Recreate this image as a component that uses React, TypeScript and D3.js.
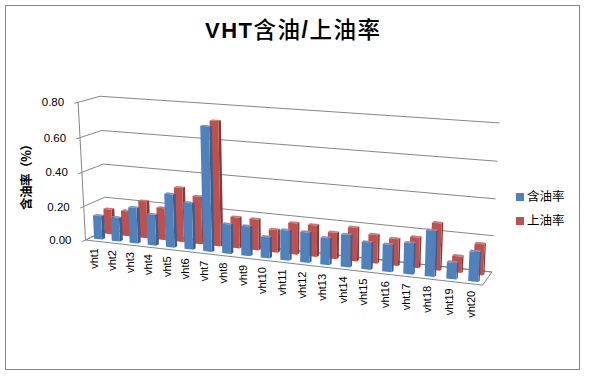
import React, { useMemo } from 'react';
import * as d3 from 'd3';

// ---------- data ----------
const categories = [
  'vht1', 'vht2', 'vht3', 'vht4', 'vht5', 'vht6', 'vht7', 'vht8', 'vht9', 'vht10',
  'vht11', 'vht12', 'vht13', 'vht14', 'vht15', 'vht16', 'vht17', 'vht18', 'vht19', 'vht20',
];
const oilContent = [0.14, 0.14, 0.21, 0.18, 0.31, 0.27, 0.71, 0.17, 0.17, 0.12, 0.17, 0.17, 0.15, 0.18, 0.15, 0.15, 0.17, 0.25, 0.09, 0.16];
const oilPickup = [0.15, 0.15, 0.22, 0.19, 0.32, 0.28, 0.72, 0.18, 0.18, 0.13, 0.18, 0.18, 0.15, 0.19, 0.16, 0.15, 0.17, 0.26, 0.09, 0.17];
const seriesNames = ['含油率', '上油率'];
const yTicks = [0, 0.2, 0.4, 0.6, 0.8];
const yTickLabels = ['0.00', '0.20', '0.40', '0.60', '0.80'];
const yTitle = '含油率（%）';

// ---------- view (3D box frame anchors: X 0..1, value-fraction 0..1, depth 0..1 -> screen) ----------
const VIEW_ANCHORS: number[][] = [
  [0, 0, 0, 85, 240], [0, 1, 0, 78, 104], [0, 0, 1, 107, 231], [0, 1, 1, 100, 96],
  [1, 0, 1, 492, 272], [1, 1, 1, 500, 123], [1, 0, 0, 483, 285],
  [0, 0.5, 0, 82, 172], [0, 0.5, 1, 103, 163], [1, 0.5, 1, 496, 199],
  [0, 0.75, 0, 80, 137], [0, 0.25, 0, 84, 206], [1, 0.75, 1, 497, 161], [1, 0.25, 1, 493, 236],
];

const COLORS = [
  { front: '#4F81BD', side: '#36608F', top: '#6F9AD0' },
  { front: '#C0504D', side: '#8C3836', top: '#D47572' },
];
const GRID = '#868686';
const FONT = "'Liberation Sans', Arial, 'Noto Sans CJK SC', sans-serif";
const CJK = "'Noto Sans CJK SC', sans-serif";

function fitCamera(anchors: number[][]) {
  const rows: number[][] = [];
  const rhs: number[] = [];
  for (const [X, Y, Z, u, v] of anchors) {
    rows.push([X, Y, Z, 1, 0, 0, 0, 0, -u * X, -u * Y, -u * Z]);
    rhs.push(u);
    rows.push([0, 0, 0, 0, X, Y, Z, 1, -v * X, -v * Y, -v * Z]);
    rhs.push(v);
  }
  const n = 11;
  const A = Array.from({ length: n }, () => new Array(n + 1).fill(0));
  for (let r = 0; r < rows.length; r++) {
    for (let i = 0; i < n; i++) {
      for (let j = 0; j < n; j++) A[i][j] += rows[r][i] * rows[r][j];
      A[i][n] += rows[r][i] * rhs[r];
    }
  }
  for (let c = 0; c < n; c++) {
    let p = c;
    for (let r = c + 1; r < n; r++) if (Math.abs(A[r][c]) > Math.abs(A[p][c])) p = r;
    const tmp = A[c]; A[c] = A[p]; A[p] = tmp;
    for (let r = 0; r < n; r++) {
      if (r === c) continue;
      const f = A[r][c] / A[c][c];
      for (let k = c; k <= n; k++) A[r][k] -= f * A[c][k];
    }
  }
  const P = A.map((row, i) => row[n] / row[i]);
  return (X: number, Y: number, Z: number): [number, number] => {
    const w = P[8] * X + P[9] * Y + P[10] * Z + 1;
    return [(P[0] * X + P[1] * Y + P[2] * Z + P[3]) / w, (P[4] * X + P[5] * Y + P[6] * Z + P[7]) / w];
  };
}

export default function App() {
  const proj = useMemo(() => fitCamera(VIEW_ANCHORS), []);
  const pad = 0.54;
  const x = d3.scaleBand<string>().domain(categories).range([0, 1]).paddingInner(pad).paddingOuter(pad / 2);
  const y = d3.scaleLinear().domain([0, 0.8]).range([0, 1]);
  const z = d3.scalePoint<string>().domain(seriesNames).range([0, 1]).padding(0.5);
  const barDepth = 0.14;
  const series = [oilContent, oilPickup];

  const pts = (arr: [number, number][]) => arr.map((p) => p.join(',')).join(' ');
  const line = d3.line();

  const bars: JSX.Element[] = [];
  [1, 0].forEach((s) => {
    const zc = z(seriesNames[s])!;
    const z0 = zc - barDepth / 2;
    const z1 = zc + barDepth / 2;
    series[s].forEach((val, i) => {
      const x0 = x(categories[i])!;
      const x1 = x0 + x.bandwidth();
      const t = y(val);
      const front = [proj(x0, 0, z0), proj(x1, 0, z0), proj(x1, t, z0), proj(x0, t, z0)];
      const side = [proj(x1, 0, z0), proj(x1, 0, z1), proj(x1, t, z1), proj(x1, t, z0)];
      const top = [proj(x0, t, z0), proj(x1, t, z0), proj(x1, t, z1), proj(x0, t, z1)];
      const c = COLORS[s];
      bars.push(
        <g key={`b${s}-${i}`}>
          <polygon points={pts(side)} fill={c.side} />
          <polygon points={pts(top)} fill={c.top} />
          <polygon points={pts(front)} fill={c.front} />
        </g>
      );
    });
  });

  const floor = [proj(0, 0, 0), proj(1, 0, 0), proj(1, 0, 1), proj(0, 0, 1)];

  return (
    <svg width={590} height={376} style={{ position: 'absolute', left: 0, top: 0, background: '#fff' }} fontFamily={FONT}>
      <rect x={0} y={0} width={590} height={376} fill="#fff" />
      <rect x={5.5} y={5.5} width={574} height={364} fill="none" stroke="#868686" strokeWidth={1} />
      {/* title */}
      <text x={205} y={38} textLength={175} lengthAdjust="spacing" fill="#000">
        <tspan fontWeight="bold" fontSize={22}>VHT</tspan>
        <tspan fontFamily={CJK} fontWeight="500" fontSize={22.5}>含油</tspan>
        <tspan fontWeight="bold" fontSize={23}>/</tspan>
        <tspan fontFamily={CJK} fontWeight="500" fontSize={22.5}>上油率</tspan>
      </text>
      {/* floor */}
      <polygon points={pts(floor as [number, number][])} fill="none" stroke={GRID} strokeWidth={1} />
      {/* gridlines on side wall and back wall */}
      {yTicks.map((v, k) => {
        const t = y(v);
        return (
          <path
            key={`g${k}`}
            d={line([proj(0, t, 0), proj(0, t, 1), proj(1, t, 1)]) || ''}
            fill="none"
            stroke={GRID}
            strokeWidth={1}
          />
        );
      })}
      {/* value axis */}
      <path d={line([proj(0, 0, 0), proj(0, 1, 0)]) || ''} stroke={GRID} strokeWidth={1} fill="none" />
      {yTicks.map((v, k) => {
        const t = y(v);
        const a = proj(0, t, 0);
        const b = proj(0, t, -0.16);
        return (
          <g key={`t${k}`}>
            <path d={line([a, b]) || ''} stroke={GRID} strokeWidth={1} />
            <text x={a[0] - 14} y={a[1]} dy="0.35em" textAnchor="end" fontSize={11.5} fill="#000">
              {yTickLabels[k]}
            </text>
          </g>
        );
      })}
      {bars}
      {/* category labels */}
      {categories.map((c, i) => {
        const cx = x(c)! + x.bandwidth() / 2;
        const p = proj(cx, 0, 0);
        return (
          <text
            key={`c${i}`}
            transform={`translate(${p[0]},${p[1] + 7}) rotate(-90)`}
            dy="0.35em"
            textAnchor="end"
            fontSize={11}
            fill="#000"
          >
            {c}
          </text>
        );
      })}
      {/* y axis title */}
      <text
        transform="translate(27,210) rotate(-90)"
        dy="0.35em"
        textLength={72}
        lengthAdjust="spacing"
        fontSize={12.5}
        fontWeight="bold"
        fontFamily={CJK}
        fill="#000"
      >
        {yTitle}
      </text>
      {/* legend */}
      {seriesNames.map((n, k) => (
        <g key={`l${k}`} transform={`translate(516,${193 + k * 24})`}>
          <rect x={0} y={0} width={8} height={8} fill={COLORS[k].front} />
          <text x={11} y={4} dy="0.35em" fontSize={12.5} fontFamily={CJK} fill="#000">
            {n}
          </text>
        </g>
      ))}
    </svg>
  );
}
